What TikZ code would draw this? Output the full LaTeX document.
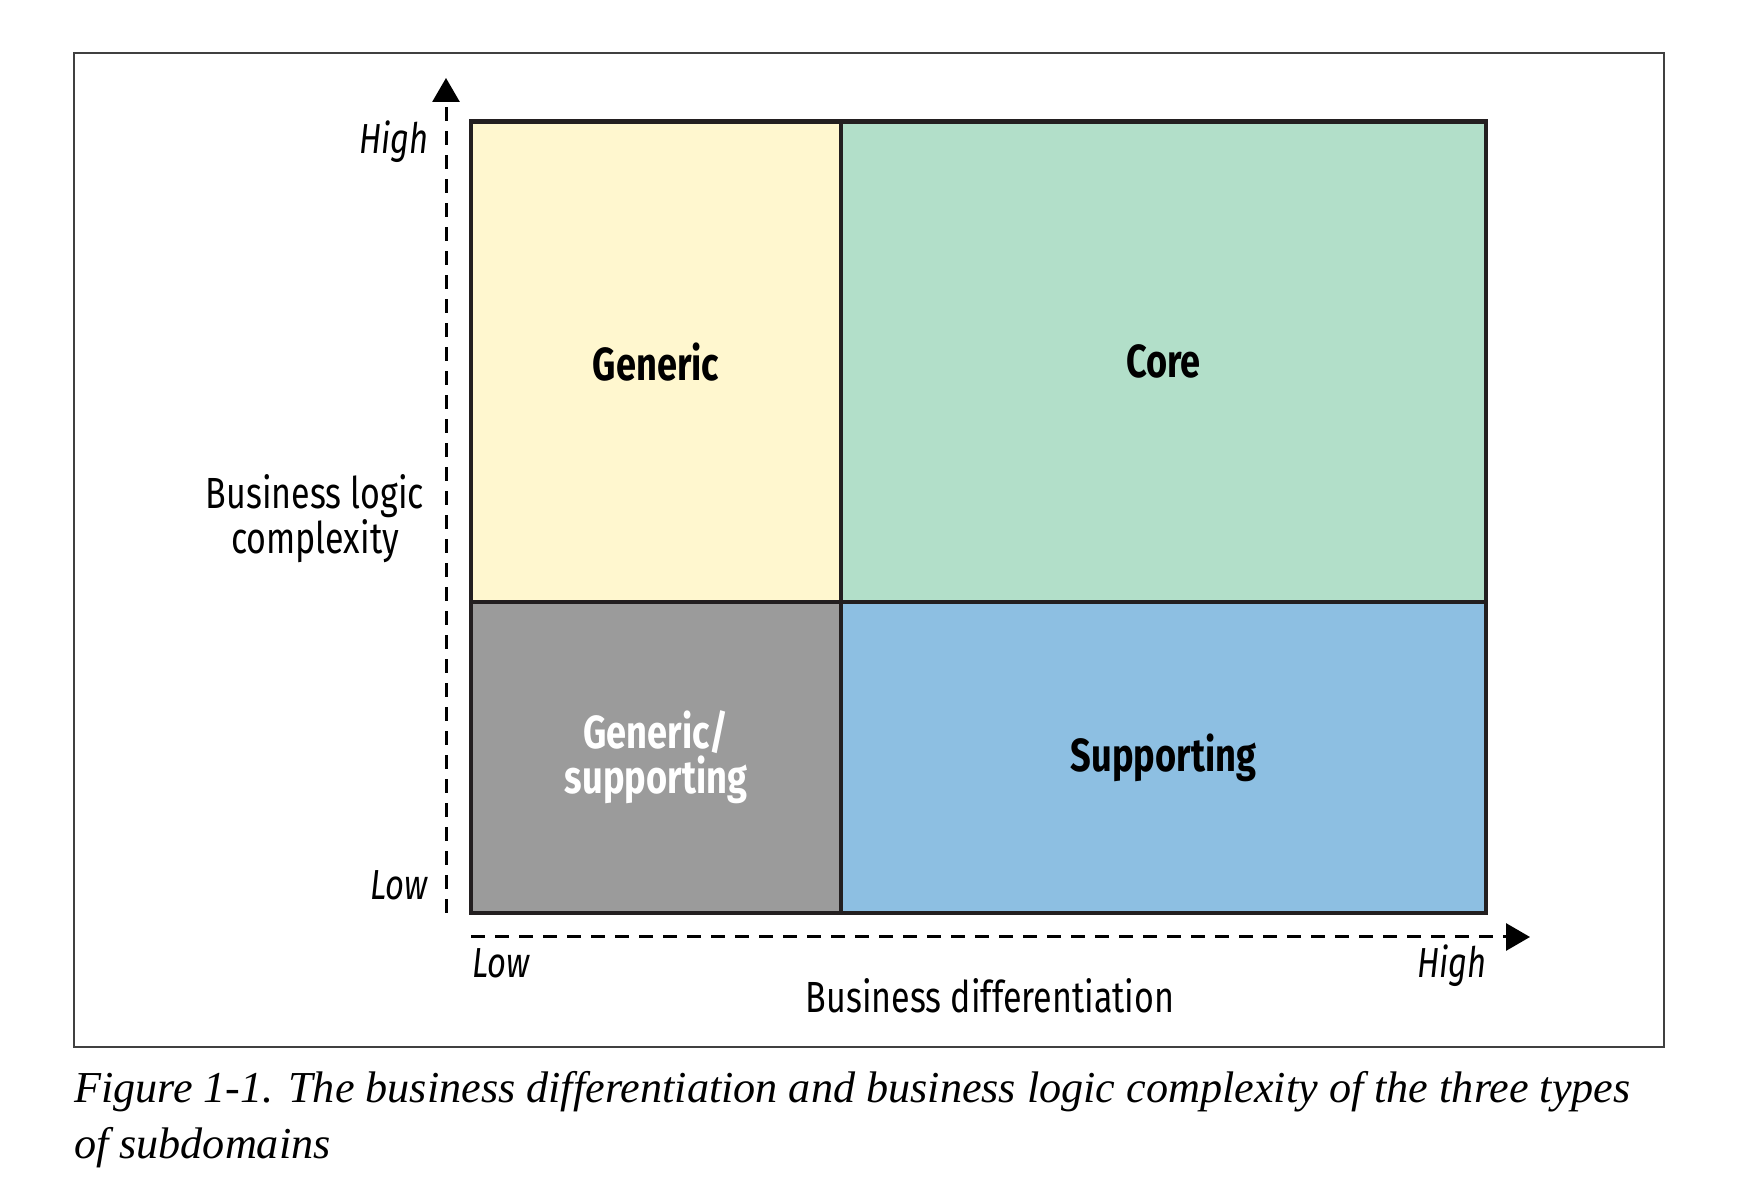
\documentclass[tikz,border=0pt]{standalone}
\usepackage{fontspec}
\setmainfont{Liberation Serif}
\newfontfamily\labelfont[FakeStretch=0.78]{Fira Sans}
\usetikzlibrary{positioning, arrows.meta}
\definecolor{genericyellow}{HTML}{FFF7CF}
\definecolor{coregreen}{HTML}{B2DFC9}
\definecolor{mixgray}{HTML}{9B9B9B}
\definecolor{supportblue}{HTML}{8DBFE2}
\definecolor{edgeblack}{HTML}{231F20}
\tikzstyle{Axis} = [
    line width = 1.5pt,
    dash pattern = on 7pt off 5pt,
    -{Triangle[length=12pt, width=13.5pt]}
]

\begin{document}
\begin{tikzpicture}[
x = 1pt, y = 1pt,
cell/.style = {
    rectangle,
    draw = edgeblack,
    line width = 2.25pt,
    inner sep = 0pt,
    outer sep = 0pt,
    align = center,
    font = \labelfont\bfseries\fontsize{23.2}{19.5}\selectfont
    },
tag/.style = {
    inner sep = 0pt,
    font = \labelfont\itshape\fontsize{21}{24}\selectfont
    },
title/.style = {
    inner sep = 0pt,
    align = center,
    font = \labelfont\fontsize{21.8}{20}\selectfont
    }
]

\useasboundingbox (0,0) rectangle (870,594);
\draw[line width = 1pt, black!75] (36.8,70.5) rectangle (832,567.25);

\node [cell, fill = genericyellow, minimum width = 185pt, minimum height = 240.25pt, anchor = north west] (generic) at (235.5,533.25) {Generic};
\node [cell, fill = coregreen, minimum width = 322.5pt, minimum height = 240.25pt, right = 0pt of generic] (core) {Core};
\node [cell, fill = mixgray, text = white, minimum width = 185pt, minimum height = 155.5pt, below = 0pt of generic] (mixed) {Generic/\\supporting};
\node [cell, fill = supportblue, minimum width = 322.5pt, minimum height = 155.5pt, below = 0pt of core] (supporting) {Supporting};

\coordinate (yfoot) at ([xshift = -12.5pt]mixed.south west);
\coordinate (ytip) at ([xshift = -12.5pt, yshift = 21.75pt]generic.north west);
\coordinate (xfoot) at ([yshift = -12pt]mixed.south west);
\coordinate (xtip) at ([xshift = 22pt, yshift = -12pt]supporting.south east);

\draw[Axis] (yfoot) -- (ytip);
\draw[Axis] (xfoot) -- (xtip);

\node [tag, anchor = base east] (yhigh) at (214.5,517) {High};
\node [tag, anchor = base east] (ylow) at (214,144) {Low};
\node [tag, anchor = base west] (xlow) at (236,105) {Low};
\node [tag, anchor = base east] (xhigh) at (743.5,105) {High};

\node [title, anchor = base] (xtitle) at (495,87.5) {Business differentiation};
\node [title] (ytitle) at (157.5,334.5) {Business logic\\complexity};

\node [anchor = base west, align = left, inner sep = 0pt, font = \itshape\fontsize{22.1}{28}\selectfont] (caption) at (36.8,14.5) {Figure 1-1. The business differentiation and business logic complexity of the three types\\of subdomains};

\end{tikzpicture}
\end{document}
